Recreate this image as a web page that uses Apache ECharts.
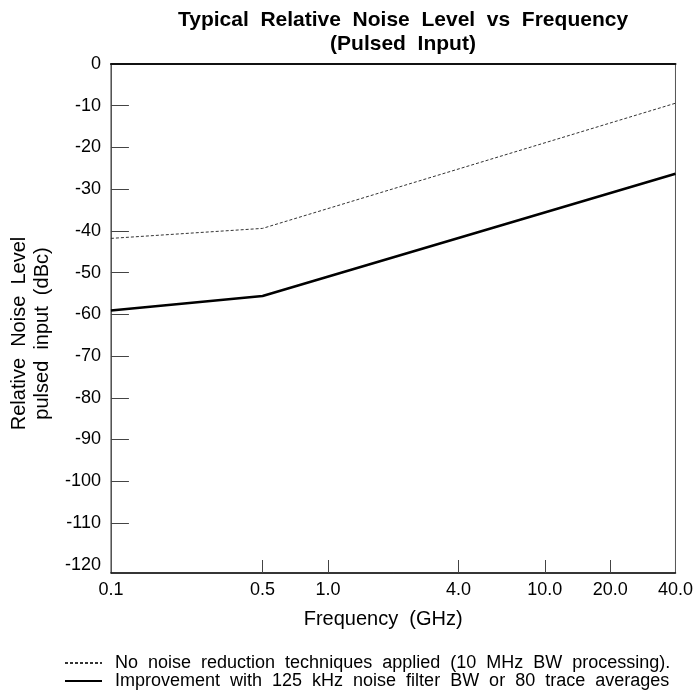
<!DOCTYPE html>
<html>
<head>
<meta charset="utf-8">
<script src="https://cdn.jsdelivr.net/npm/echarts@6/dist/echarts.min.js"></script>
<style>
  html, body { margin: 0; padding: 0; background: #fff; }
  #chart { width: 696px; height: 696px; }
</style>
</head>
<body>
<div id="chart"></div>
<script>
// frequency in GHz, level in dBc
var freqs = [0.1, 0.5, 40];
var noReduction = [-41.8, -39.4, -9.4];
var improved = [-59.1, -55.6, -26.3];

var xTickLabels = ["0.1", "0.5", "1.0", "4.0", "10.0", "20.0", "40.0"];
var xTickValues = [0.1, 0.5, 1, 4, 10, 20, 40];
var yTickValues = [0, -10, -20, -30, -40, -50, -60, -70, -80, -90, -100, -110, -120];

var seriesNames = [
  "No  noise  reduction  techniques  applied  (10  MHz  BW  processing).",
  "Improvement  with  125  kHz  noise  filter  BW  or  80  trace  averages"
];

var font = "Liberation Sans, Arial, sans-serif";

function lg(v) { return Math.log10(v); }

function pairs(vals) {
  return freqs.map(function (f, i) { return [lg(f), vals[i]]; });
}

var chartDom = document.getElementById("chart");
var myChart = echarts.init(chartDom);

var option = {
  animation: false,
  title: {
    text: "Typical  Relative  Noise  Level  vs  Frequency\n(Pulsed  Input)",
    left: 398,
    textAlign: "center",
    top: 3,
    textStyle: {
      fontFamily: font,
      fontSize: 21,
      fontWeight: "bold",
      color: "#000",
      lineHeight: 24
    }
  },
  legend: {
    orient: "vertical",
    left: 64,
    top: 654,
    height: 42,
    padding: 0,
    itemWidth: 37,
    itemHeight: 12,
    itemGap: 0,
    itemStyle: { opacity: 0 },
    data: seriesNames,
    textStyle: { fontFamily: font, fontSize: 18, color: "#000", lineHeight: 15, padding: [0, 0, 0, 8] }
  },
  grid: {
    left: 107,
    right: 19,
    top: 64,
    bottom: 123,
    show: true,
    borderColor: "#555",
    borderWidth: 1
  },
  xAxis: [
    {
      type: "value",
      min: lg(0.1),
      max: lg(40),
      name: "Frequency  (GHz)",
      nameLocation: "middle",
      nameGap: 36,
      nameTextStyle: { fontFamily: font, fontSize: 20, color: "#000", padding: [0, 20, 0, 0] },
      axisLine: { onZero: false, lineStyle: { color: "#111", width: 1.5 } },
      axisTick: {
        inside: true,
        length: 13,
        lineStyle: { color: "#444" },
        customValues: xTickValues.slice(1, -1).map(lg)
      },
      axisLabel: {
        fontFamily: font,
        fontSize: 18,
        color: "#000",
        margin: 8,
        customValues: xTickValues.map(lg),
        formatter: function (v) {
          for (var i = 0; i < xTickValues.length; i++) {
            if (Math.abs(lg(xTickValues[i]) - v) < 1e-6) return xTickLabels[i];
          }
          return "";
        }
      },
      splitLine: { show: false }
    },
    {
      type: "value",
      position: "top",
      min: lg(0.1),
      max: lg(40),
      axisLine: { show: true, onZero: false, lineStyle: { color: "#111", width: 2 } },
      axisTick: { show: false },
      axisLabel: { show: false },
      splitLine: { show: false }
    }
  ],
  yAxis: {
    type: "value",
    min: -122,
    max: 0,
    name: "Relative  Noise  Level\npulsed  input  (dBc)",
    nameLocation: "middle",
    nameRotate: 90,
    nameGap: 45,
    nameTextStyle: { fontFamily: font, fontSize: 20, color: "#000", lineHeight: 23, padding: [0, 30, 0, 0] },
    axisLine: { show: true, onZero: false, lineStyle: { color: "#555", width: 1 } },
    axisTick: {
      inside: true,
      length: 18,
      lineStyle: { color: "#444" },
      customValues: yTickValues.slice(1, -1)
    },
    axisLabel: {
      fontFamily: font,
      fontSize: 18,
      color: "#000",
      margin: 10,
      customValues: yTickValues
    },
    splitLine: { show: false }
  },
  series: [
    {
      name: seriesNames[0],
      type: "line",
      symbol: "none",
      lineStyle: { color: "#333", width: 1, type: [3, 2] },
      itemStyle: { color: "#333" },
      data: pairs(noReduction)
    },
    {
      name: seriesNames[1],
      type: "line",
      symbol: "none",
      lineStyle: { color: "#000", width: 2.5 },
      itemStyle: { color: "#000" },
      data: pairs(improved)
    }
  ]
};

myChart.setOption(option);
window.addEventListener("resize", myChart.resize);
</script>
</body>
</html>
